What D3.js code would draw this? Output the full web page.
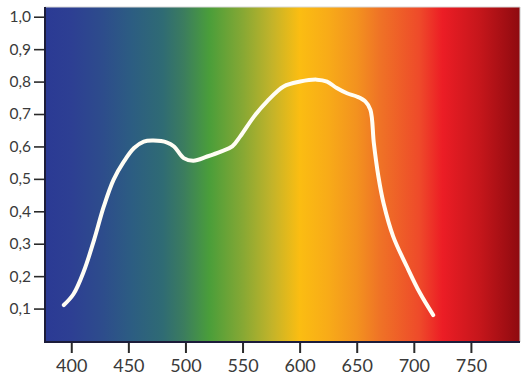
<!DOCTYPE html>
<html>
<head>
<meta charset="utf-8">
<script src="https://cdn.jsdelivr.net/npm/d3@7"></script>
<style>
  html, body { margin: 0; padding: 0; background: #fff; }
  svg { display: block; }
</style>
</head>
<body>
<div id="chart"></div>
<script>
// Data
const wavelengths = [393.5, 402, 411, 420, 428.5, 437, 446, 455, 463.5, 472, 484, 490, 498.5, 507, 519, 531, 541, 548, 560, 571.5, 586, 600.5, 615, 624, 632.5, 641.5, 650, 657.5, 662, 665, 669, 673.5, 682, 694, 705.5, 717];
const response = [0.111, 0.145, 0.215, 0.312, 0.415, 0.497, 0.553, 0.595, 0.615, 0.618, 0.612, 0.600, 0.564, 0.556, 0.569, 0.584, 0.600, 0.631, 0.692, 0.739, 0.785, 0.800, 0.806, 0.800, 0.780, 0.764, 0.754, 0.739, 0.713, 0.610, 0.507, 0.425, 0.322, 0.229, 0.147, 0.080];
const xTicks = [400, 450, 500, 550, 600, 650, 700, 750];
const yTicks = [0.1, 0.2, 0.3, 0.4, 0.5, 0.6, 0.7, 0.8, 0.9, 1.0];
const spectrumNm = [377, 400, 427, 453, 480, 498, 521, 550, 575, 600, 625, 650, 670, 705, 725, 758, 793];
const spectrumColors = ["#2b3a94", "#2d3f93", "#2d4c8c", "#2c5d82", "#2f6b74", "#3b7c5f", "#4a9e3a", "#86a834", "#c1b32a", "#fbbd12", "#f8ab18", "#f3921f", "#ef7326", "#ee4a2a", "#ec1d25", "#c5161b", "#8e0a0f"];

(function () {
const W = 530, H = 382;
const mLeft = 45, mRight = 520, mTop = 7, mBottom = 342;

const svg = d3.select("#chart").append("svg").attr("width", W).attr("height", H);

const x = d3.scaleLinear().domain([377, 793]).range([mLeft, mRight]);
const y = d3.scaleLinear().domain([0, 1.03]).range([341, mTop]);

// gradient
const defs = svg.append("defs");
const grad = defs.append("linearGradient").attr("id", "spec")
  .attr("gradientUnits", "userSpaceOnUse")
  .attr("x1", x(377)).attr("x2", x(793)).attr("y1", 0).attr("y2", 0);
spectrumNm.forEach((nm, i) => {
  grad.append("stop").attr("offset", (nm - 377) / (793 - 377)).attr("stop-color", spectrumColors[i]);
});

svg.append("rect").attr("x", mLeft).attr("y", mTop).attr("width", mRight - mLeft).attr("height", mBottom - mTop)
  .attr("fill", "url(#spec)");
svg.append("line").attr("x1", mLeft).attr("x2", mRight).attr("y1", mTop).attr("y2", mTop).attr("stroke", "#d8d8d8").attr("stroke-width", 1);
svg.append("line").attr("x1", mRight).attr("x2", mRight).attr("y1", mTop).attr("y2", mBottom).attr("stroke", "#c8c8c8").attr("stroke-width", 1);

// axes
const fmt = d => d3.format(".1f")(d).replace(".", ",");
const yAxis = d3.axisLeft(y).tickValues(yTicks).tickFormat(fmt).tickSize(11).tickPadding(3);
const gy = svg.append("g").attr("transform", `translate(${mLeft},0)`).call(yAxis);
gy.select(".domain").remove();
gy.selectAll(".tick line").attr("stroke", "#2a2a2a").attr("stroke-width", 1.6);
gy.selectAll(".tick text").attr("fill", "#3a3a3a").style("font-family", "Lato, 'Open Sans', sans-serif").style("font-size", "15.5px");

const xAxis = d3.axisBottom(x).tickValues(xTicks).tickFormat(d3.format("d")).tickSize(11).tickPadding(6);
const gx = svg.append("g").attr("transform", `translate(0,${mBottom})`).call(xAxis);
gx.select(".domain").remove();
gx.selectAll(".tick line").attr("stroke", "#2a2a2a").attr("stroke-width", 2);
gx.selectAll(".tick text").attr("fill", "#3a3a3a").style("font-family", "Lato, 'Open Sans', sans-serif").style("font-size", "18px");

// dark left & bottom border
svg.append("line").attr("x1", mLeft).attr("x2", mLeft).attr("y1", mTop).attr("y2", mBottom + 1).attr("stroke", "#1c1c3a").attr("stroke-width", 2);
svg.append("line").attr("x1", mLeft).attr("x2", mRight).attr("y1", mBottom).attr("y2", mBottom).attr("stroke", "#1c1c3a").attr("stroke-width", 2);

// curve
const line = d3.line().x((d, i) => x(wavelengths[i])).y(d => y(d)).curve(d3.curveCatmullRom.alpha(0.5));
svg.append("path").datum(response).attr("d", line)
  .attr("fill", "none").attr("stroke", "#fffdf4").attr("stroke-width", 4)
  .attr("stroke-linecap", "round").attr("stroke-linejoin", "round");
})();
</script>
</body>
</html>
